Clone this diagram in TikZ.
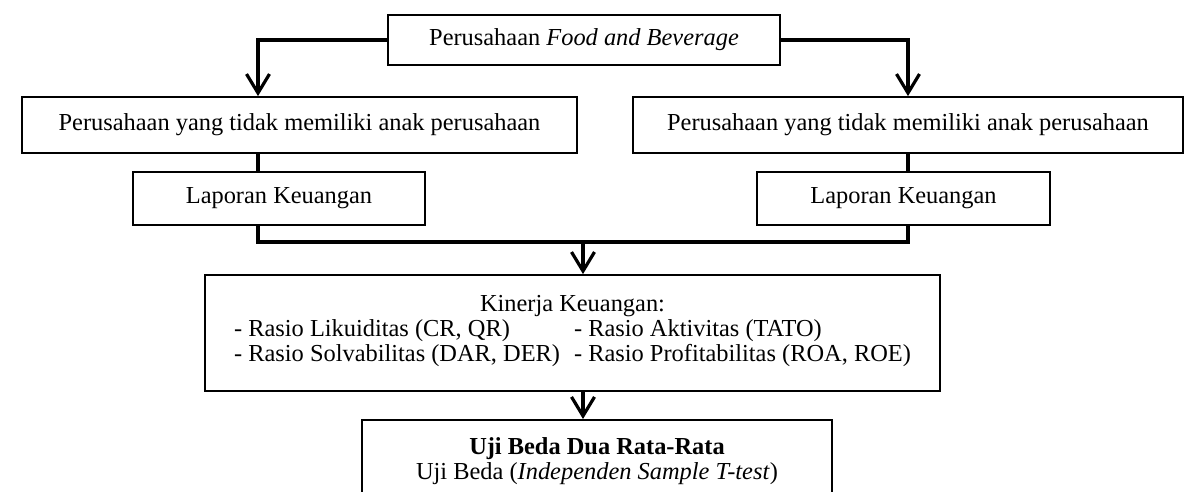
\documentclass[tikz,border=0pt]{standalone}
\usepackage{fontspec}
\setmainfont{Liberation Serif}
\usetikzlibrary{arrows.meta,positioning,calc}

\begin{document}
\begin{tikzpicture}[x=0.5pt,y=-0.5pt]
  \tikzset{
    kotak/.style={draw, rectangle, line width=0.9pt, inner sep=0pt, align=center,
      font=\fontsize{12.2}{12.5}\selectfont},
    garis/.style={line width=1.6pt},
    panah/.style={garis, -{Straight Barb[length=9.5pt,width=11.5pt,line width=1.6pt]}},
  }
  \useasboundingbox (0,0) rectangle (1204,492);
  \clip (0,0) rectangle (1204,492);

  \node[kotak, minimum width=196pt, minimum height=25pt] (atas) at (584,40)
    {Perusahaan \textit{Food and Beverage}};
  \node[kotak, minimum width=277.5pt, minimum height=28pt] (kiri) at (299.5,125)
    {Perusahaan yang tidak memiliki anak perusahaan};
  \node[kotak, minimum width=275pt, minimum height=28pt] (kanan) at (908,125)
    {Perusahaan yang tidak memiliki anak perusahaan};
  \node[kotak, minimum width=146pt, minimum height=26.5pt] (lapKiri) at (279,198.5)
    {Laporan Keuangan};
  \node[kotak, minimum width=146.5pt, minimum height=26.5pt] (lapKanan) at (903.5,198.5)
    {Laporan Keuangan};
  \node[kotak, minimum width=367.5pt, minimum height=58pt] (kinerja) at (572.5,333)
    {\begin{tabular}{@{}l@{\hspace{7pt}}l@{}}
       \multicolumn{2}{@{}c@{}}{Kinerja Keuangan:}\\
       - Rasio Likuiditas (CR, QR) & - Rasio Aktivitas (TATO)\\
       - Rasio Solvabilitas (DAR, DER) & - Rasio Profitabilitas (ROA, ROE)\\[2pt]
     \end{tabular}};
  \node[kotak, anchor=north, minimum width=235pt, inner ysep=8.6pt] (uji) at (597,419)
    {\textbf{Uji Beda Dua Rata-Rata}\\Uji Beda (\textit{Independen Sample T-test})\\\rule{0pt}{40pt}};

  % jalur penghubung
  \coordinate (jalurKiri) at (258,0);
  \coordinate (jalurKanan) at (908,0);
  \coordinate (gabung) at (583,242);

  \draw[panah] (atas.west) -| (jalurKiri |- kiri.north);
  \draw[panah] (atas.east) -| (jalurKanan |- kanan.north);
  \draw[garis] (jalurKiri |- kiri.south) -- (jalurKiri |- lapKiri.north);
  \draw[garis] (jalurKanan |- kanan.south) -- (jalurKanan |- lapKanan.north);
  \draw[garis] (jalurKiri |- lapKiri.south) -- (jalurKiri |- gabung)
    -- (jalurKanan |- gabung) -- (jalurKanan |- lapKanan.south);
  \draw[panah] (gabung) -- (gabung |- kinerja.north);
  \draw[panah] (gabung |- kinerja.south) -- (gabung |- uji.north);
\end{tikzpicture}
\end{document}
